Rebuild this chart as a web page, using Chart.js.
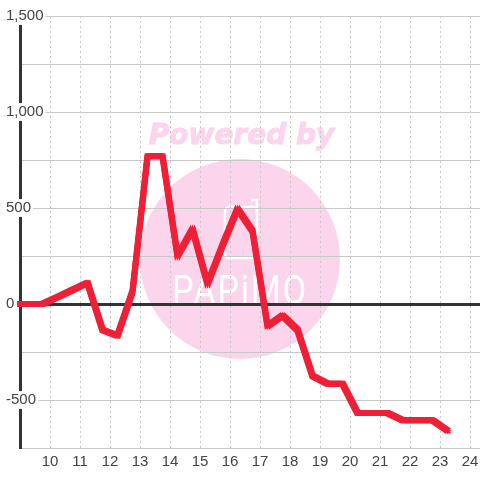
<!DOCTYPE html>
<html>
<head>
<meta charset="utf-8">
<style>
html, body { margin: 0; padding: 0; background: #fff; }
canvas { display: block; }
</style>
<script src="https://cdn.jsdelivr.net/npm/chart.js@4"></script>
</head>
<body>
<canvas id="chart_canvas" width="480" height="480"></canvas>
<script>
const hours = [9, 9.75, 10.25, 10.75, 11.25, 11.75, 12.25, 12.75, 13.25, 13.75, 14.25, 14.75, 15.25, 15.75, 16.25, 16.75, 17.25, 17.75, 18.25, 18.75, 19.25, 19.75, 20.25, 20.75, 21.25, 21.75, 22.25, 22.75, 23.25];
const values = [0, 0, 36, 73, 110, -135, -165, 65, 770, 770, 250, 390, 105, 305, 495, 380, -115, -60, -135, -375, -415, -415, -568, -568, -568, -605, -605, -605, -660];
const hourTicks = [10, 11, 12, 13, 14, 15, 16, 17, 18, 19, 20, 21, 22, 23, 24];
const valueTicks = [-750, -500, -250, 0, 250, 500, 750, 1000, 1250, 1500];

const pink = "#fbd5ec";

// watermark sits behind the grid
const watermark = {
    id: "watermark",
    beforeDraw: function(chart) {
        const ctx = chart.ctx;
        ctx.save();
        ctx.fillStyle = pink;
        ctx.beginPath();
        ctx.arc(240, 259, 100, 0, Math.PI * 2);
        ctx.fill();

        ctx.font = "italic bold 28px 'DejaVu Sans'";
        ctx.textAlign = "center";
        ctx.textBaseline = "alphabetic";
        ctx.strokeStyle = pink;
        ctx.lineWidth = 1;
        ctx.fillText("Powered by", 241.5, 144);
        ctx.strokeText("Powered by", 241.5, 144);

        ctx.strokeStyle = "#fff";
        ctx.lineWidth = 2.5;
        ctx.beginPath();
        ctx.roundRect(225, 207, 32, 51, 4);
        ctx.moveTo(257, 208);
        ctx.lineTo(257, 200);
        ctx.lineTo(251, 200);
        ctx.stroke();

        ctx.fillStyle = "#fff";
        ctx.font = "400 40px 'Roboto'";
        ctx.translate(240, 304);
        ctx.scale(0.86, 1);
        ctx.letterSpacing = "2px";
        ctx.fillText("PAPiMO", 0, 0);
        ctx.restore();
    }
};

// the original line is stroked with a square pen, so slanted parts get thicker
const squarePen = {
    id: "squarePen",
    afterDatasetDraw: function(chart, args) {
        const ctx = chart.ctx;
        [-2, 0, 2].forEach(function(dx) {
            [-2, 0, 2].forEach(function(dy) {
                ctx.save();
                ctx.translate(dx, dy);
                args.meta.dataset.draw(ctx);
                ctx.restore();
            });
        });
    }
};

new Chart(document.getElementById("chart_canvas"), {
    type: "line",
    data: {
        datasets: [{
            data: hours.map(function(h, i) { return { x: h, y: values[i] }; }),
            borderColor: "#ee2037",
            borderWidth: 2,
            borderCapStyle: "square",
            borderJoinStyle: "miter",
            tension: 0,
            pointRadius: 0,
            fill: false,
            clip: false
        }]
    },
    options: {
        responsive: false,
        animation: false,
        devicePixelRatio: 1,
        layout: { padding: { top: 16, bottom: 0, right: 0 } },
        plugins: { legend: { display: false }, tooltip: { enabled: false } },
        scales: {
            x: {
                type: "linear",
                min: 9,
                max: 24.33,
                afterBuildTicks: function(scale) {
                    scale.ticks = hourTicks.map(function(v) { return { value: v }; });
                },
                afterFit: function(scale) {
                    scale.height = 32;
                    scale.paddingRight = 0;
                    scale.paddingLeft = 0;
                },
                grid: { color: "#c8c8c8", lineWidth: 1, drawTicks: false },
                border: { color: "#c8c8c8", width: 1, dash: [2, 3] },
                ticks: {
                    color: "#444",
                    font: { family: "'Liberation Sans'", size: 15 },
                    padding: 5,
                    maxRotation: 0,
                    autoSkip: false
                }
            },
            y: {
                min: -750,
                max: 1500,
                afterBuildTicks: function(scale) {
                    scale.ticks = valueTicks.map(function(v) { return { value: v }; });
                },
                afterFit: function(scale) { scale.width = 20; },
                grid: {
                    color: function(c) { return c.tick.value === 0 ? "#333" : "#c8c8c8"; },
                    lineWidth: function(c) { return c.tick.value === 0 ? 3 : 1; },
                    drawTicks: false
                },
                border: { color: "#333", width: 3 },
                ticks: {
                    color: "#444",
                    font: { family: "'Liberation Sans'", size: 15 },
                    mirror: true,
                    padding: -14,
                    autoSkip: false,
                    showLabelBackdrop: true,
                    backdropColor: "#fff",
                    backdropPadding: { x: 2, y: 0 },
                    callback: function(v) {
                        return v % 500 === 0 ? v.toLocaleString("en-US") : "";
                    }
                }
            }
        }
    },
    plugins: [watermark, squarePen]
});
</script>
</body>
</html>
